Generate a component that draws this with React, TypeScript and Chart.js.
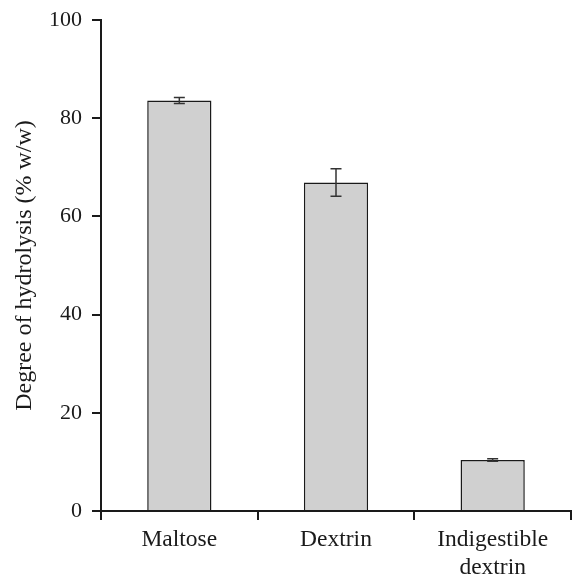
import React, { useEffect, useRef } from "react";
import { Chart, registerables } from "chart.js";

Chart.register(...registerables);

const categories: (string | string[])[] = ["Maltose", "Dextrin", ["Indigestible", "dextrin"]];
const values: number[] = [83.6, 66.9, 10.4];
const errors: number[] = [0.6, 2.8, 0.25];
const yTicks: number[] = [0, 20, 40, 60, 80, 100];

const FONT = "'Liberation Serif', 'Times New Roman', serif";
const INK = "#1a1a1a";

const errorBarPlugin = {
  id: "errorBars",
  afterDatasetsDraw(chart: any) {
    const ctx = chart.ctx;
    const meta = chart.getDatasetMeta(0);
    const y = chart.scales.y;
    ctx.save();
    ctx.strokeStyle = "#333";
    ctx.lineWidth = 1.5;
    meta.data.forEach((bar: any, i: number) => {
      const x = bar.x;
      const top = y.getPixelForValue(values[i] + errors[i]);
      const bot = y.getPixelForValue(values[i] - errors[i]);
      const cap = 5.5;
      ctx.beginPath();
      ctx.moveTo(x, top);
      ctx.lineTo(x, bot);
      ctx.moveTo(x - cap, top);
      ctx.lineTo(x + cap, top);
      ctx.moveTo(x - cap, bot);
      ctx.lineTo(x + cap, bot);
      ctx.stroke();
    });
    ctx.restore();
  },
};

export default function App() {
  const ref = useRef<HTMLCanvasElement | null>(null);
  useEffect(() => {
    if (!ref.current) return;
    const chart = new Chart(ref.current, {
      type: "bar",
      data: {
        labels: categories as any,
        datasets: [
          {
            data: values,
            backgroundColor: "#d0d0d0",
            borderColor: INK,
            borderWidth: 1.5,
            categoryPercentage: 1,
            barPercentage: 0.41,
          },
        ],
      },
      plugins: [errorBarPlugin],
      options: {
        animation: false,
        responsive: true,
        maintainAspectRatio: false,
        layout: { padding: { top: 20, right: 3, left: 0, bottom: 0 } },
        plugins: { legend: { display: false }, tooltip: { enabled: false } },
        scales: {
          x: {
            afterFit: (s: any) => {
              s.height = 67;
              s.paddingLeft = 0;
              s.paddingRight = 0;
            },
            grid: {
              offset: true,
              drawOnChartArea: false,
              drawTicks: true,
              tickLength: 9,
              color: INK,
              lineWidth: 2,
            },
            border: { display: true, color: INK, width: 2 },
            ticks: {
              color: INK,
              font: { family: FONT, size: 23.5, lineHeight: 1.22 },
              padding: 5,
              maxRotation: 0,
              autoSkip: false,
            },
          },
          y: {
            min: 0,
            max: 100,
            afterFit: (s: any) => {
              s.width = 101;
              s.paddingTop = 0;
              s.paddingBottom = 0;
            },
            afterBuildTicks: (s: any) => {
              s.ticks = yTicks.map((v) => ({ value: v }));
            },
            grid: {
              drawOnChartArea: false,
              drawTicks: true,
              tickLength: 9,
              color: INK,
              lineWidth: 2,
            },
            border: { display: true, color: INK, width: 2 },
            ticks: {
              color: INK,
              font: { family: FONT, size: 22 },
              padding: 10,
            },
            title: {
              display: true,
              text: "Degree of hydrolysis (% w/w)",
              color: INK,
              font: { family: FONT, size: 24 },
              padding: { top: 10, bottom: 0 },
            },
          },
        },
      },
    });
    return () => chart.destroy();
  }, []);
  return (
    <div style={{ position: "absolute", left: 0, top: 0, width: 574, height: 578, background: "#fff" }}>
      <canvas ref={ref} />
    </div>
  );
}
